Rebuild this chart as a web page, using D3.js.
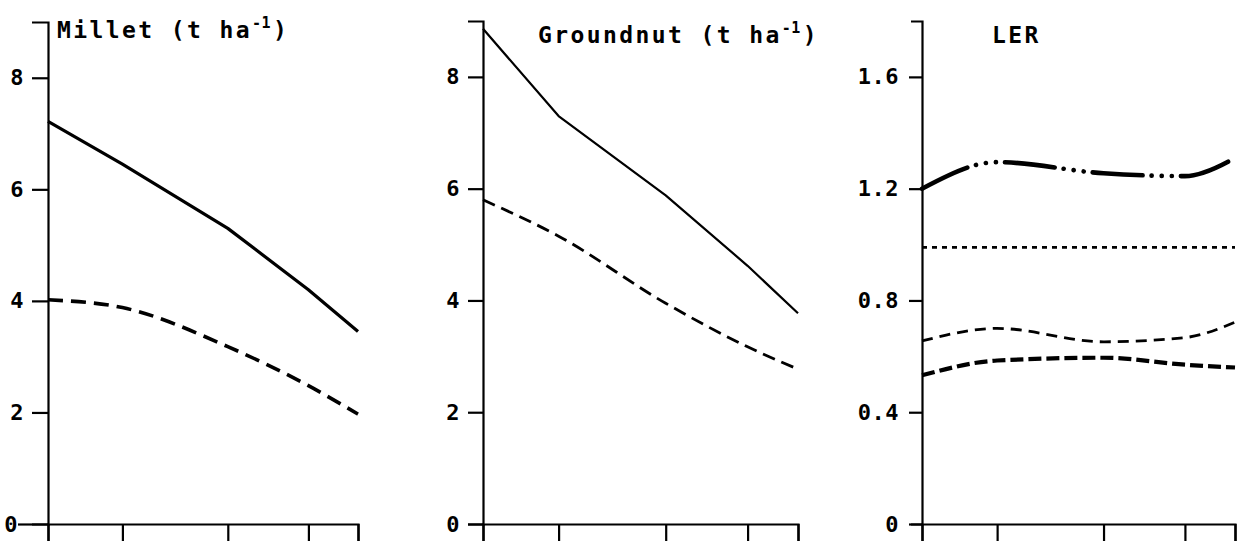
<!DOCTYPE html>
<html>
<head>
<meta charset="utf-8">
<script src="https://cdn.jsdelivr.net/npm/d3@7/dist/d3.min.js"></script>
<style>
  html, body { margin: 0; padding: 0; background: #fff; }
  svg { display: block; }
</style>
</head>
<body>
<svg id="chart" width="1237" height="541"></svg>
<script>
// ---- data ----
const xValues = [0, 2.4, 5.8, 8.4, 10];          // unlabelled x positions
const milletSole = [7.22, 6.45, 5.30, 4.20, 3.45];
const milletInter = [4.02, 3.88, 3.18, 2.48, 1.97];
const groundnutSole = [8.86, 7.30, 5.88, 4.62, 3.77];
const groundnutInter = [5.80, 5.15, 3.95, 3.17, 2.77];
const lerTotal = [1.20, 1.295, 1.255, 1.245, 1.31];
const lerReference = [0.99, 0.99, 0.99, 0.99, 0.99];
const lerGroundnut = [0.655, 0.70, 0.652, 0.667, 0.722];
const lerMillet = [0.532, 0.585, 0.595, 0.570, 0.560];
const yieldTicks = [0, 2, 4, 6, 8];
const lerTicks = [0, 0.4, 0.8, 1.2, 1.6];

const svg = d3.select("#chart");
svg.append("rect").attr("width", 1237).attr("height", 541).attr("fill", "#fff");

const FONT = "DejaVu Sans Mono, monospace";

const panels = [
  { left: 48, width: 310, top: 22, yMax: 9, ticks: yieldTicks, fmt: d => String(d),
    tickSize: 16, outer: 16, pad: 8,
    title: ["Millet (t ha", "-1", ")"], tx: 57, ty: 38,
    series: [
      { v: milletSole, w: 3.2, dash: null, curve: d3.curveLinear },
      { v: milletInter, w: 3.6, dash: "15,8", curve: d3.curveMonotoneX }
    ] },
  { left: 483, width: 315, top: 21, yMax: 9, ticks: yieldTicks, fmt: d => String(d),
    tickSize: 15, outer: 15, pad: 8,
    title: ["Groundnut (t ha", "-1", ")"], tx: 538, ty: 43,
    series: [
      { v: groundnutSole, w: 2.2, dash: null, curve: d3.curveLinear },
      { v: groundnutInter, w: 2.8, dash: "13,7", curve: d3.curveMonotoneX }
    ] },
  { left: 922, width: 313, top: 21, yMax: 1.8, ticks: lerTicks, fmt: d => d === 0 ? "0" : d.toFixed(1),
    tickSize: 13, outer: 11, pad: 10,
    title: ["LER"], tx: 992, ty: 43,
    series: [
      { v: lerTotal, w: 4.6, dash: "50,9,0.1,10,0.1,10,0.1,9", cap: "round", curve: d3.curveMonotoneX },
      { v: lerReference, w: 2.6, dash: "5,5", curve: d3.curveLinear },
      { v: lerGroundnut, w: 2.8, dash: "11,7", curve: d3.curveMonotoneX },
      { v: lerMillet, w: 4.2, dash: "13,5", curve: d3.curveMonotoneX }
    ] }
];

panels.forEach((p, i) => {
  const g = svg.append("g").attr("transform", `translate(${p.left},0)`);
  const x = d3.scaleLinear().domain([0, 10]).range([0, p.width]);
  const y = d3.scaleLinear().domain([0, p.yMax]).range([524, p.top]);

  // x axis
  const xa = g.append("g").attr("transform", "translate(0,524)")
    .call(d3.axisBottom(x).tickValues(xValues).tickFormat("").tickSize(22).tickSizeOuter(22));
  xa.selectAll("path, line").attr("stroke", "#000").attr("stroke-width", 2.2);

  // y axis
  const ya = g.append("g")
    .call(d3.axisLeft(y).tickValues(p.ticks).tickFormat(p.fmt)
      .tickSize(p.tickSize).tickSizeOuter(p.outer).tickPadding(p.pad));
  ya.attr("font-size", null).attr("font-family", null);
  ya.selectAll("path, line").attr("stroke", "#000").attr("stroke-width", 2.2);
  ya.selectAll("text").style("font-size", "22px").style("font-family", FONT)
    .style("font-weight", "bold").attr("fill", "#000").attr("letter-spacing", 0.5);
  if (i === 0) {
    ya.selectAll(".tick").filter(d => d === 0).select("line").attr("x2", -30);
    ya.selectAll(".tick").filter(d => d === 0).select("text").attr("x", -30);
  }

  // series
  p.series.forEach(s => {
    const line = d3.line().x((d, k) => x(xValues[k])).y(d => y(d)).curve(s.curve);
    g.append("path").datum(s.v)
      .attr("d", line)
      .attr("fill", "none").attr("stroke", "#000")
      .attr("stroke-width", s.w)
      .attr("stroke-linecap", s.cap || "butt")
      .attr("stroke-linejoin", "round")
      .attr("stroke-dasharray", s.dash);
  });

  // title
  const t = svg.append("text").attr("x", p.tx).attr("y", p.ty)
    .style("font-family", FONT).style("font-size", "23px").style("font-weight", "bold")
    .attr("letter-spacing", 2.4).attr("fill", "#000");
  t.append("tspan").text(p.title[0]);
  if (p.title.length > 1) {
    t.append("tspan").attr("dy", -10).style("font-size", "15px").attr("letter-spacing", 0.5).text(p.title[1]);
    t.append("tspan").attr("dy", 10).attr("dx", 2).text(p.title[2]);
  }
});
</script>
</body>
</html>
